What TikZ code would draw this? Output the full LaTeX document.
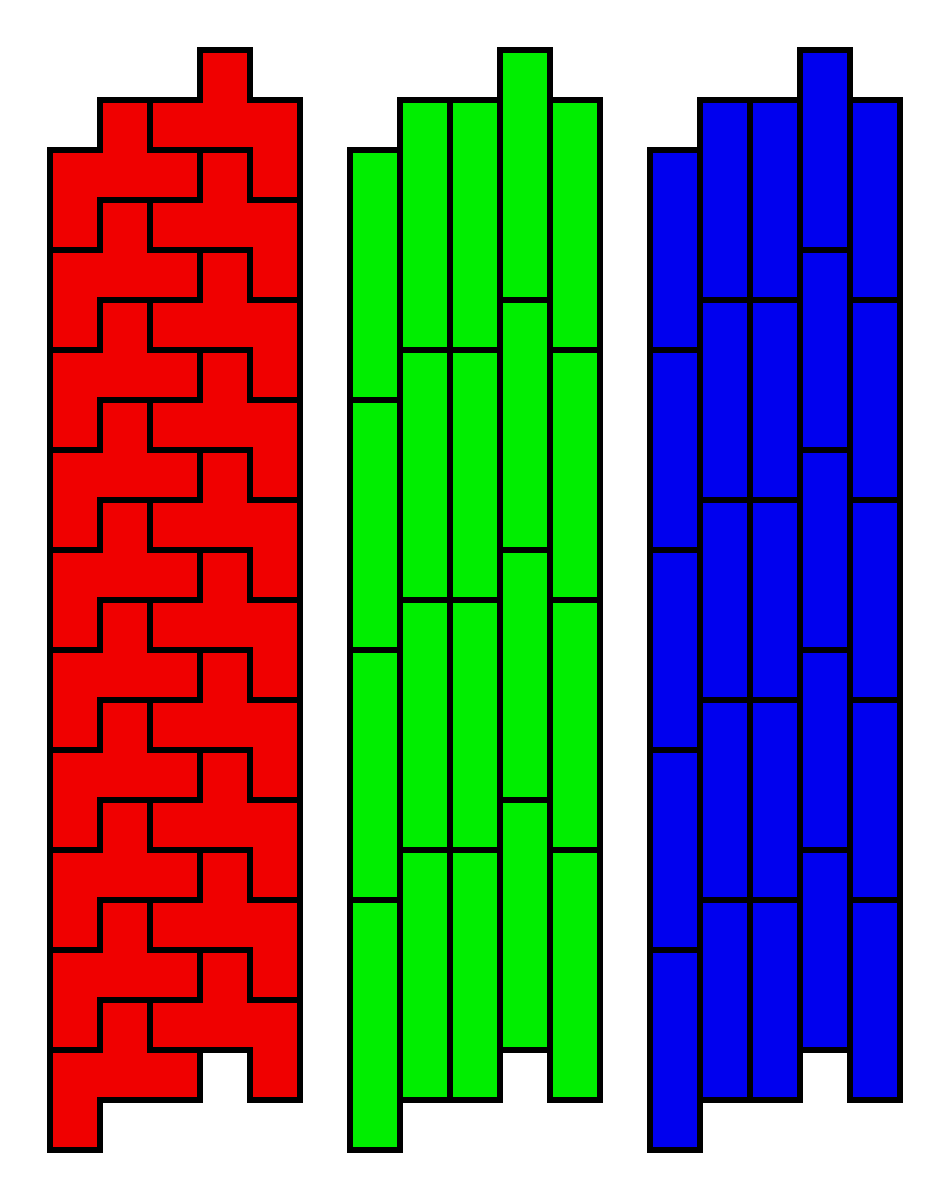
\documentclass[tikz,border=0pt]{standalone}
\begin{document}
\begin{tikzpicture}[x=0.75pt,y=0.75pt,yscale=-1,xscale=1]
%set diagram left start at 0, and has size of 950 x 1200
\useasboundingbox (0,0) rectangle (950,1200);
%Shape: Polygon [F pieces, red]
\foreach \k in {0,...,9} {
  \pgfmathsetmacro\yk{100*\k}
  \draw  [line width=4.5pt][fill={rgb, 255:red, 240; green, 0; blue, 0 }  ,fill opacity=1 ] (200,50+\yk) -- (250,50+\yk) -- (250,100+\yk) -- (300,100+\yk) -- (300,200+\yk) -- (250,200+\yk) -- (250,150+\yk) -- (150,150+\yk) -- (150,100+\yk) -- (200,100+\yk) -- cycle ;
  \draw  [line width=4.5pt][fill={rgb, 255:red, 240; green, 0; blue, 0 }  ,fill opacity=1 ] (100,100+\yk) -- (150,100+\yk) -- (150,150+\yk) -- (200,150+\yk) -- (200,200+\yk) -- (100,200+\yk) -- (100,250+\yk) -- (50,250+\yk) -- (50,150+\yk) -- (100,150+\yk) -- cycle ;
}
%Shape: Rectangle [I pieces of five, green]
\foreach \x/\s in {350/150,400/100,450/100,500/50,550/100} {
  \foreach \j in {0,...,3} {
    \draw  [line width=4.5pt][fill={rgb, 255:red, 0; green, 238; blue, 0 }  ,fill opacity=1 ] (\x,\s+250*\j) rectangle (\x+50,\s+250*\j+250) ;
  }
}
%Shape: Rectangle [I pieces of four, blue]
\foreach \x/\s in {650/150,700/100,750/100,800/50,850/100} {
  \foreach \j in {0,...,4} {
    \draw  [line width=4.5pt][fill={rgb, 255:red, 0; green, 0; blue, 238 }  ,fill opacity=1 ] (\x,\s+200*\j) rectangle (\x+50,\s+200*\j+200) ;
  }
}
\end{tikzpicture}
\end{document}
